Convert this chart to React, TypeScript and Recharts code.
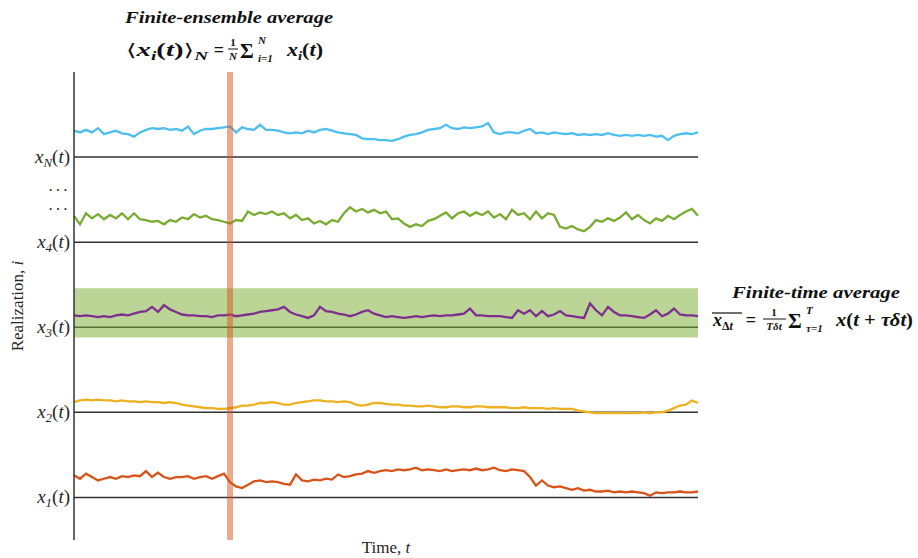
import React from 'react';
import { LineChart, Line, XAxis, YAxis, ReferenceLine, ReferenceArea } from 'recharts';

// each realization is a signal sitting on its own baseline (1..5)
const time = Array.from({ length: 105 }, (_, i) => i);

const signalN = [
  0.31, 0.29, 0.32, 0.29, 0.34, 0.27, 0.29, 0.31, 0.28, 0.27,
  0.24, 0.29, 0.32, 0.34, 0.33, 0.34, 0.32, 0.33, 0.31, 0.36,
  0.27, 0.31, 0.33, 0.33, 0.34, 0.35, 0.36, 0.29, 0.35, 0.33,
  0.32, 0.38, 0.32, 0.32, 0.31, 0.29, 0.28, 0.29, 0.28, 0.31,
  0.29, 0.32, 0.33, 0.31, 0.29, 0.28, 0.27, 0.26, 0.22, 0.21,
  0.21, 0.2, 0.2, 0.19, 0.21, 0.24, 0.26, 0.27, 0.29, 0.32,
  0.33, 0.34, 0.38, 0.34, 0.33, 0.35, 0.34, 0.35, 0.36, 0.4,
  0.29, 0.27, 0.29, 0.29, 0.28, 0.31, 0.33, 0.28, 0.29, 0.27,
  0.29, 0.28, 0.27, 0.28, 0.26, 0.27, 0.26, 0.27, 0.26, 0.28,
  0.26, 0.25, 0.26, 0.25, 0.26, 0.25, 0.26, 0.24, 0.25, 0.2,
  0.25, 0.27, 0.28, 0.27, 0.29,
];

const signal4 = [
  0.31, 0.21, 0.34, 0.28, 0.33, 0.27, 0.32, 0.28, 0.34, 0.27,
  0.34, 0.27, 0.26, 0.24, 0.25, 0.21, 0.26, 0.24, 0.29, 0.27,
  0.33, 0.29, 0.31, 0.27, 0.26, 0.24, 0.22, 0.26, 0.25, 0.36,
  0.32, 0.35, 0.33, 0.36, 0.32, 0.34, 0.28, 0.32, 0.26, 0.28,
  0.22, 0.25, 0.21, 0.26, 0.24, 0.34, 0.41, 0.36, 0.39, 0.35,
  0.38, 0.34, 0.36, 0.27, 0.28, 0.22, 0.18, 0.21, 0.19, 0.25,
  0.27, 0.31, 0.35, 0.28, 0.34, 0.36, 0.31, 0.35, 0.32, 0.36,
  0.29, 0.33, 0.27, 0.38, 0.32, 0.34, 0.27, 0.36, 0.28, 0.34,
  0.32, 0.18, 0.16, 0.19, 0.15, 0.13, 0.18, 0.26, 0.24, 0.28,
  0.25, 0.29, 0.35, 0.27, 0.32, 0.26, 0.22, 0.28, 0.25, 0.31,
  0.27, 0.32, 0.36, 0.39, 0.31,
];

const signal3 = [
  0.14, 0.13, 0.14, 0.13, 0.12, 0.13, 0.12, 0.14, 0.15, 0.14,
  0.16, 0.18, 0.19, 0.24, 0.18, 0.26, 0.21, 0.18, 0.15, 0.14,
  0.14, 0.13, 0.13, 0.12, 0.14, 0.14, 0.15, 0.13, 0.14, 0.15,
  0.16, 0.18, 0.19, 0.2, 0.21, 0.24, 0.18, 0.15, 0.13, 0.11,
  0.14, 0.24, 0.19, 0.18, 0.16, 0.15, 0.13, 0.15, 0.18, 0.2,
  0.16, 0.14, 0.12, 0.13, 0.12, 0.11, 0.12, 0.13, 0.12, 0.13,
  0.14, 0.13, 0.14, 0.14, 0.15, 0.16, 0.22, 0.14, 0.14, 0.13,
  0.13, 0.13, 0.12, 0.11, 0.2, 0.16, 0.2, 0.13, 0.19, 0.13,
  0.15, 0.19, 0.14, 0.13, 0.12, 0.11, 0.28, 0.2, 0.14, 0.24,
  0.18, 0.14, 0.14, 0.13, 0.12, 0.11, 0.15, 0.2, 0.13, 0.16,
  0.22, 0.15, 0.14, 0.14, 0.13,
];

const signal2 = [
  0.12, 0.14, 0.15, 0.14, 0.15, 0.14, 0.14, 0.13, 0.14, 0.13,
  0.13, 0.12, 0.13, 0.12, 0.12, 0.11, 0.12, 0.11, 0.09, 0.08,
  0.07, 0.06, 0.05, 0.05, 0.04, 0.04, 0.05, 0.06, 0.08, 0.08,
  0.09, 0.11, 0.11, 0.12, 0.11, 0.09, 0.09, 0.11, 0.12, 0.13,
  0.14, 0.14, 0.13, 0.13, 0.12, 0.13, 0.12, 0.09, 0.08, 0.09,
  0.11, 0.11, 0.1, 0.09, 0.09, 0.08, 0.08, 0.07, 0.07, 0.08,
  0.07, 0.06, 0.06, 0.07, 0.07, 0.06, 0.06, 0.07, 0.07, 0.06,
  0.06, 0.06, 0.06, 0.05, 0.05, 0.06, 0.05, 0.05, 0.05, 0.04,
  0.05, 0.04, 0.04, 0.04, 0.02, 0.01, 0.0, -0.01, -0.01, -0.01,
  -0.01, -0.01, -0.01, -0.01, -0.01, 0.0, -0.01, 0.0, 0.0, 0.02,
  0.05, 0.08, 0.09, 0.14, 0.11,
];

const signal1 = [
  0.26, 0.22, 0.28, 0.24, 0.2, 0.22, 0.24, 0.22, 0.25, 0.24,
  0.26, 0.25, 0.31, 0.24, 0.29, 0.24, 0.22, 0.24, 0.24, 0.25,
  0.22, 0.24, 0.25, 0.22, 0.25, 0.28, 0.18, 0.13, 0.11, 0.15,
  0.19, 0.2, 0.18, 0.19, 0.18, 0.16, 0.15, 0.27, 0.2, 0.19,
  0.21, 0.2, 0.22, 0.21, 0.27, 0.24, 0.25, 0.27, 0.28, 0.31,
  0.29, 0.31, 0.32, 0.31, 0.33, 0.32, 0.33, 0.35, 0.32, 0.33,
  0.32, 0.31, 0.33, 0.31, 0.32, 0.33, 0.32, 0.34, 0.32, 0.33,
  0.35, 0.32, 0.31, 0.33, 0.32, 0.31, 0.24, 0.14, 0.2, 0.14,
  0.12, 0.13, 0.11, 0.09, 0.11, 0.08, 0.09, 0.07, 0.07, 0.08,
  0.06, 0.07, 0.06, 0.07, 0.06, 0.05, 0.02, 0.06, 0.05, 0.06,
  0.06, 0.07, 0.06, 0.06, 0.07,
];

const baselines = [1, 2, 3, 4, 5];
const tickValues = [1, 2, 3, 4, 4.38, 4.6, 5];
const tickSubs = ['1', '2', '3', '4', 'dots', 'dots', 'N'];

const ensembleWindow = [25.5, 26.5];
const timeWindow = [2.88, 3.46];

const series = [
  { key: 'x1', signal: signal1, base: 1, color: '#d95319' },
  { key: 'x2', signal: signal2, base: 2, color: '#edb120' },
  { key: 'x3', signal: signal3, base: 3, color: '#7e2f8e' },
  { key: 'x4', signal: signal4, base: 4, color: '#77ac30' },
  { key: 'xN', signal: signalN, base: 5, color: '#4dbeee' },
];

const data = time.map((t, i) => {
  const row: Record<string, number> = { t };
  series.forEach((s) => { row[s.key] = s.base + s.signal[i]; });
  return row;
});

const FONT = '"Liberation Serif", "DejaVu Serif", serif';
const INK = '#262626';

function RealizationTick(props: any) {
  const { x, y, payload } = props;
  const sub = tickSubs[tickValues.indexOf(payload.value)];
  if (sub === 'dots') {
    return (
      <text x={x} y={y + 5} textAnchor="end" fontFamily={FONT} fontSize={16} fill={INK} letterSpacing={2}>
        ···
      </text>
    );
  }
  return (
    <text x={x} y={y + 6} textAnchor="end" fontFamily={FONT} fontSize={19} fill={INK}>
      <tspan fontStyle="italic">x</tspan>
      <tspan fontStyle="italic" fontSize={13} dy={4}>{sub}</tspan>
      <tspan dy={-4}>(</tspan>
      <tspan fontStyle="italic">t</tspan>
      <tspan>)</tspan>
    </text>
  );
}

function Annotations() {
  const b = { fontFamily: FONT, fontWeight: 'bold' as const, fill: '#111' };
  return (
    <svg width={918} height={558} style={{ position: 'absolute', left: 0, top: 0, pointerEvents: 'none' }}>
      {/* ensemble average */}
      <text x={229} y={23} textAnchor="middle" fontSize={17} fontStyle="italic" textLength={208} lengthAdjust="spacingAndGlyphs" {...b}>
        Finite-ensemble average
      </text>
      <text x={126} y={56} fontSize={18} textLength={82} lengthAdjust="spacingAndGlyphs" {...b}>
        <tspan fontFamily='"DejaVu Serif", serif' fontWeight="normal" fontSize={17}>⟨</tspan>
        <tspan fontStyle="italic">x</tspan>
        <tspan fontStyle="italic" fontSize={12} dy={4}>i</tspan>
        <tspan dy={-4}>(</tspan>
        <tspan fontStyle="italic">t</tspan>
        <tspan>)</tspan>
        <tspan fontFamily='"DejaVu Serif", serif' fontWeight="normal" fontSize={17}>⟩</tspan>
        <tspan fontStyle="italic" fontSize={12} dy={4}>N</tspan>
      </text>
      <text x={219} y={56} textAnchor="middle" fontSize={18} {...b}>=</text>
      <text x={233} y={46} textAnchor="middle" fontSize={11} {...b}>1</text>
      <line x1={228} x2={238} y1={49} y2={49} stroke="#111" strokeWidth={1} />
      <text x={233} y={60} textAnchor="middle" fontSize={11} fontStyle="italic" {...b}>N</text>
      <text x={240} y={58} fontSize={21} {...b}>Σ</text>
      <text x={258} y={44} fontSize={11} fontStyle="italic" {...b}>N</text>
      <text x={258} y={62} fontSize={11} fontStyle="italic" {...b}>i=1</text>
      <text x={287} y={56} fontSize={18} textLength={36} lengthAdjust="spacingAndGlyphs" {...b}>
        <tspan fontStyle="italic">x</tspan>
        <tspan fontStyle="italic" fontSize={12} dy={4}>i</tspan>
        <tspan dy={-4}>(</tspan>
        <tspan fontStyle="italic">t</tspan>
        <tspan>)</tspan>
      </text>

      {/* time average */}
      <text x={816} y={298} textAnchor="middle" fontSize={17} fontStyle="italic" textLength={168} lengthAdjust="spacingAndGlyphs" {...b}>
        Finite-time average
      </text>
      <line x1={712} x2={742} y1={313} y2={313} stroke="#111" strokeWidth={1.2} />
      <text x={713} y={326} fontSize={18} {...b}>
        <tspan fontStyle="italic">x</tspan>
        <tspan fontSize={12} dy={4}>Δ</tspan>
        <tspan fontSize={12} fontStyle="italic">t</tspan>
      </text>
      <text x={751} y={326} textAnchor="middle" fontSize={18} {...b}>=</text>
      <text x={774} y={316} textAnchor="middle" fontSize={11} {...b}>1</text>
      <line x1={763} x2={786} y1={319} y2={319} stroke="#111" strokeWidth={1} />
      <text x={774} y={330} textAnchor="middle" fontSize={11} fontStyle="italic" {...b}>Tδt</text>
      <text x={788} y={328} fontSize={21} {...b}>Σ</text>
      <text x={806} y={314} fontSize={11} fontStyle="italic" {...b}>T</text>
      <text x={806} y={332} fontSize={11} fontStyle="italic" {...b}>τ=1</text>
      <text x={836} y={326} fontSize={18} textLength={77} lengthAdjust="spacingAndGlyphs" {...b}>
        <tspan fontStyle="italic">x</tspan>
        <tspan>(</tspan>
        <tspan fontStyle="italic">t</tspan>
        <tspan> + </tspan>
        <tspan fontStyle="italic">τδt</tspan>
        <tspan>)</tspan>
      </text>

      {/* axis titles */}
      <text x={386} y={553} textAnchor="middle" fontFamily={FONT} fontSize={17} fill={INK}>
        Time, <tspan fontStyle="italic">t</tspan>
      </text>
      <text x={23} y={306} textAnchor="middle" fontFamily={FONT} fontSize={17} fill={INK} transform="rotate(-90 23 306)">
        Realization, <tspan fontStyle="italic">i</tspan>
      </text>
    </svg>
  );
}

export default function App() {
  return (
    <div style={{ position: 'absolute', left: 0, top: 0, width: 918, height: 558, background: '#fff' }}>
      <LineChart width={918} height={558} data={data} margin={{ top: 72, right: 220, bottom: 18, left: 0 }}>
        <XAxis dataKey="t" type="number" domain={[0, 104]} hide />
        <YAxis
          type="number"
          domain={[0.5, 6]}
          ticks={tickValues}
          interval={0}
          width={74}
          tickSize={0}
          tickMargin={4}
          tickLine={false}
          axisLine={{ stroke: '#333', strokeWidth: 1.5 }}
          tick={<RealizationTick />}
          allowDataOverflow
        />
        {baselines.map((v) => (
          <ReferenceLine key={v} y={v} stroke="#333" strokeWidth={1.5} zIndex={50} />
        ))}
        <ReferenceArea x1={0} x2={104} y1={timeWindow[0]} y2={timeWindow[1]} fill="#77ac30" fillOpacity={0.5} stroke="none" zIndex={60} />
        {series.map((s) => (
          <Line key={s.key} dataKey={s.key} stroke={s.color} strokeWidth={2.3} dot={false} type="linear" isAnimationActive={false} />
        ))}
        <ReferenceArea x1={ensembleWindow[0]} x2={ensembleWindow[1]} y1={0.5} y2={6} fill="#d95319" fillOpacity={0.5} stroke="none" zIndex={450} />
      </LineChart>
      <Annotations />
    </div>
  );
}
